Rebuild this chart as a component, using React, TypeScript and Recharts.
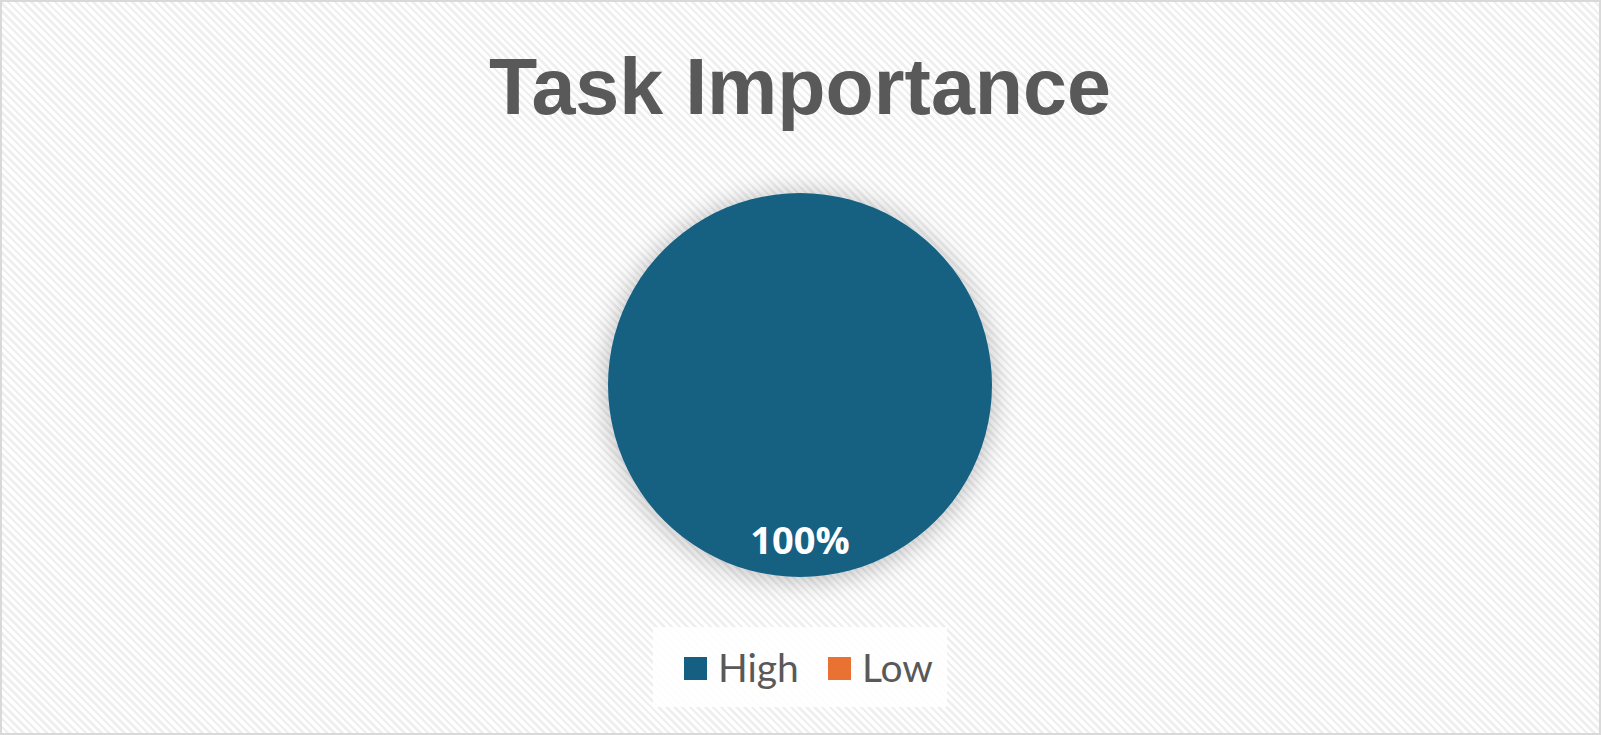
import { PieChart, Pie, Cell, Legend } from 'recharts';

const categories = ['High', 'Low'];
const shares = [100, 0];
const sliceColors = ['#156082', '#E97132'];

const data = categories.map((name, i) => ({ name, value: shares[i] }));

const RAD = Math.PI / 180;

function renderLabel(props: any) {
  const { cx, cy, midAngle, outerRadius, value } = props;
  if (!value) return null;
  const r = outerRadius * 0.8;
  const x = cx + r * Math.cos(-midAngle * RAD);
  const y = cy + r * Math.sin(-midAngle * RAD);
  return (
    <text
      x={x}
      y={y}
      fill="#ffffff"
      textAnchor="middle"
      dominantBaseline="central"
      style={{ fontFamily: '"Open Sans", sans-serif', fontWeight: 700, fontSize: 38 }}
    >
      {`${value}%`}
    </text>
  );
}

function renderLegend(props: any) {
  const { payload } = props;
  return (
    <div
      style={{
        display: 'flex',
        alignItems: 'center',
        height: '100%',
        paddingLeft: 31,
        boxSizing: 'border-box',
        background: 'rgba(255,255,255,0.85)',
        fontFamily: 'Lato, sans-serif',
        fontSize: 39,
        color: '#595959',
      }}
    >
      {(payload || []).map((p: any, i: number) => (
        <div key={p.value} style={{ display: 'flex', alignItems: 'center', marginLeft: i ? 29 : 0 }}>
          <span style={{ width: 23, height: 23, background: p.color, marginRight: 11, marginTop: 3 }} />
          <span>{p.value}</span>
        </div>
      ))}
    </div>
  );
}

export default function App() {
  return (
    <div
      style={{
        position: 'fixed',
        left: 0,
        top: 0,
        width: 1601,
        height: 735,
        boxSizing: 'border-box',
        border: '2px solid #d9d9d9',
        background:
          'repeating-linear-gradient(45deg, #ffffff 0px, #ffffff 3px, #efefef 3px, #efefef 5.5px)',
        overflow: 'hidden',
      }}
    >
      <svg width={1601} height={735} style={{ position: 'absolute', left: -2, top: -2 }}>
        <text
          x={800}
          y={114}
          textAnchor="middle"
          fill="#595959"
          style={{ fontFamily: '"Liberation Sans", Arial, sans-serif', fontWeight: 700, fontSize: 79 }}
        >
          Task Importance
        </text>
      </svg>
      <div style={{ position: 'absolute', left: -2, top: -2 }}>
        <PieChart width={1601} height={735}>
          <defs>
            <filter id="pieShadow" x="-40%" y="-40%" width="180%" height="180%">
              <feDropShadow dx={0} dy={2} stdDeviation={14} floodColor="#000000" floodOpacity={0.28} />
            </filter>
          </defs>
          <Pie
            data={data}
            dataKey="value"
            nameKey="name"
            cx={795}
            cy={380}
            outerRadius={192}
            startAngle={90}
            endAngle={-270}
            stroke="none"
            label={renderLabel}
            labelLine={false}
            isAnimationActive={false}
          >
            {data.map((d, i) => (
              <Cell key={d.name} fill={sliceColors[i]} filter="url(#pieShadow)" />
            ))}
          </Pie>
          <Legend
            content={renderLegend}
            wrapperStyle={{ left: 653, top: 627, width: 294, height: 80, bottom: 'auto' }}
          />
        </PieChart>
      </div>
    </div>
  );
}
